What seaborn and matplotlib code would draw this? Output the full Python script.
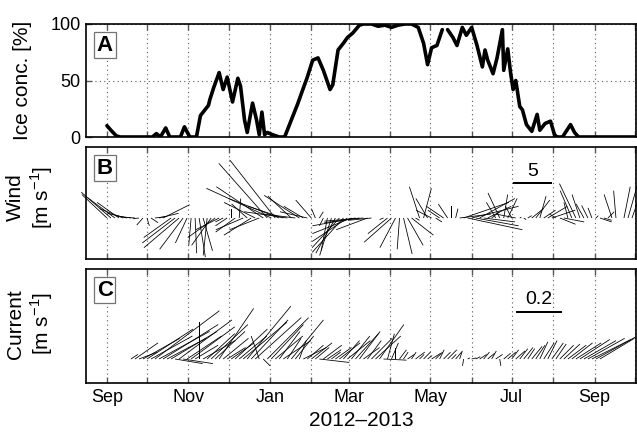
import numpy as np
import pandas as pd
import matplotlib
matplotlib.use('Agg')
import matplotlib.pyplot as plt
import seaborn as sns

start = pd.Timestamp('2012-09-01')

# A: ice concentration, days after 1 Sep 2012 (two pieces, gap in the record)
ice_day_1 = [0, 3, 7, 10, 34, 37, 40, 44, 47, 55, 58, 62, 67, 70, 76, 77, 80, 84, 87, 90,
             94, 98, 100, 103, 105, 109, 112, 114, 116, 118, 120, 124, 129, 133, 137, 141,
             143, 146, 150, 154, 158, 162, 167, 169, 173, 177, 180, 184, 189, 192, 198, 203,
             208, 213, 218, 223, 228, 233, 237, 240, 243, 247, 251]
ice_pct_1 = [10, 6, 1, 0, 0, 3, 0, 8, 0, 0, 9, 0, 0, 19, 28, 33, 44, 57, 42, 53,
             31, 52, 45, 15, 4, 30, 15, 2, 22, 2, 4, 2, 0, 0, 12, 24,
             30, 40, 53, 68, 70, 59, 42, 46, 77, 83, 88, 92, 99, 100, 100, 98,
             99, 97, 99, 100, 100, 97, 83, 64, 79, 81, 95]
ice_day_2 = [255, 259, 262, 266, 269, 273, 277, 281, 283, 285, 289, 292, 296, 297, 300,
             302, 304, 306, 309, 311, 314, 318, 322, 324, 328, 332, 335, 337, 341, 347,
             350, 353, 396]
ice_pct_2 = [95, 88, 81, 97, 90, 97, 81, 62, 77, 68, 56, 70, 95, 59, 78,
             58, 42, 50, 27, 24, 11, 5, 20, 6, 12, 14, 2, 0, 0, 11,
             4, 0, 0]

# B: wind sticks every 3 days from 1 Sep 2012 (m/s, east / north)
wind_u = [-3.2, -3.8, -3.5, -2.8, -3.0, -2.5, -2.0, -1.5, -0.8, -0.8,
          0.3, 0.9, 1.5, 2.5, 3.4, 0.0, -3.5, -4.2, -4.5, -3.0,
          -1.5, -0.3, 0.2, 0.8, 1.2, -0.5, -2.5, -3.5, -3.0, -1.0,
          -1.5, 0.0, -2.5, 0.2, -3.5, -2.0, -3.5, -4.0, -3.8, -6.0,
          -6.2, -8.3, -5.8, -6.5, -4.5, -5.5, -3.0, -4.0, -4.5, -2.5,
          -3.5, -2.0, -0.5, 0.5, -0.5, -0.8, -1.5, -2.5, -3.5, -4.0,
          -4.5, -5.0, -5.5, -4.5, -5.0, -4.0, -3.0, -2.0, -1.0, -0.5,
          -2.5, -3.5, -2.0, -0.3, 1.1, 2.0, 2.8, 0.5, -1.3, 1.0,
          -1.5, -2.0, 0.8, -1.5, -2.2, -1.2, 0.0, 0.3, 4.0, 5.8,
          7.0, 6.0, 5.5, 4.5, 4.0, 3.0, 1.0, -1.2, -1.5, 0.5,
          1.2, -0.8, -2.5, 0.2, 0.3, 0.5, 1.5, 1.8, 0.8, 1.5,
          2.5, 3.0, -0.8, 2.0, 2.6, -0.5, -1.5, -2.1, -1.0, -1.0,
          -0.8, -0.5, 0.3, 1.5, 1.0, 0.8, -1.0, -0.3, 0.0, 0.8,
          1.2, 1.6]
wind_v = [3.0, 3.3, 2.6, 2.0, 1.2, 0.6, 0.3, 0.1, -0.1, -0.9,
          -1.0, -0.6, 0.2, 0.6, 1.7, 1.7, -2.5, -3.2, -3.8, -4.0,
          -3.2, -3.5, -4.5, -5.0, -4.2, -4.8, -3.5, -2.5, -1.5, -0.5,
          -1.0, 1.2, -1.8, 2.5, -1.5, 1.8, -2.2, 2.0, -1.5, 4.0,
          7.0, 3.8, 7.4, 2.5, 1.5, 0.8, 2.8, 0.5, 2.9, 1.5,
          0.8, 2.3, 1.2, 0.8, -1.0, -4.2, -4.8, -4.5, -3.8, -4.4,
          -3.0, -2.0, -1.0, -0.6, -0.4, -1.5, -0.3, 0.0, 0.0, -0.2,
          -2.0, -3.1, -3.8, -4.0, -4.6, -3.5, -2.2, -0.3, 4.0, 3.8,
          2.5, 1.0, -0.5, 1.0, 1.5, 1.8, 1.6, 1.2, 0.5, 2.0,
          -1.5, 1.5, -1.0, 2.5, -0.5, 1.5, 0.8, 2.0, 3.2, 3.0,
          2.5, 1.5, 0.5, 0.1, -0.2, 0.3, 1.2, 2.3, 2.8, 1.0,
          1.5, 1.0, 0.5, -0.8, -0.5, 2.0, 3.5, 4.4, 3.0, 1.8,
          1.6, 1.3, 0.3, -0.5, -0.3, 0.8, 3.0, 3.5, 4.2, 4.0,
          4.2, 4.5]

# C: current sticks every 3 days from 19 Sep 2012 (m/s, east / north)
cur_u = [0.03, 0.10, 0.08, 0.16, 0.20, 0.18, 0.28, 0.22, 0.24, 0.17,
         0.20, 0.12, 0.23, 0.13, 0.15, 0.19, 0.10, 0.00, 0.14, 0.12,
         0.16, 0.13, 0.15, 0.11, 0.08, 0.10, 0.14, 0.12, 0.19, 0.19,
         0.16, 0.20, -0.035, 0.03, 0.18, 0.14, 0.12, 0.09, 0.12, 0.06,
         0.14, 0.08, 0.03, 0.10, 0.07, 0.09, 0.06, 0.13, 0.08, 0.06,
         0.04, 0.07, 0.09, 0.07, 0.10, 0.08, 0.10, 0.09, 0.07, 0.06,
         0.09, 0.11, 0.106, 0.10, 0.03, 0.03, 0.00, 0.03, 0.02, 0.03,
         0.02, 0.04, 0.02, 0.03, 0.02, 0.04, 0.03, 0.02, 0.03, 0.04,
         0.02, 0.03, 0.01, -0.005, 0.01, 0.02, 0.02, 0.03, 0.025, 0.03,
         0.02, 0.03, 0.005, 0.03, 0.035, 0.03, 0.04, 0.035, 0.04, 0.03,
         0.045, 0.04, 0.035, 0.045, 0.04, 0.05, 0.045, 0.06, 0.07, 0.08,
         0.09, 0.11, 0.13, 0.14, 0.16, 0.17, 0.18, 0.15]
cur_v = [0.02, 0.07, 0.03, 0.09, 0.13, 0.10, 0.21, 0.12, 0.15, 0.09,
         0.12, -0.02, 0.17, -0.02, 0.10, 0.14, 0.06, 0.16, 0.08, 0.11,
         0.15, 0.12, 0.22, 0.09, 0.05, 0.07, 0.13, 0.10, 0.16, 0.23,
         0.17, 0.18, 0.10, -0.03, 0.18, 0.15, 0.10, 0.12, 0.08, 0.09,
         0.17, 0.10, 0.08, 0.05, 0.06, 0.07, 0.05, -0.015, 0.06, 0.04,
         0.03, 0.05, 0.07, 0.08, 0.08, 0.10, 0.11, 0.12, 0.05, 0.08,
         0.09, 0.10, 0.15, -0.005, 0.11, 0.07, 0.05, 0.04, 0.03, 0.02,
         0.03, 0.03, 0.02, 0.03, 0.015, 0.025, 0.03, 0.04, 0.03, 0.04,
         0.02, 0.035, 0.03, -0.03, 0.005, 0.005, 0.01, 0.02, 0.03, 0.025,
         0.035, 0.02, -0.03, 0.025, 0.03, 0.04, 0.035, 0.045, 0.05, 0.045,
         0.055, 0.06, 0.075, 0.07, 0.08, 0.07, 0.065, 0.06, 0.065, 0.06,
         0.07, 0.07, 0.085, 0.08, 0.09, 0.085, 0.10, 0.09]

month_labels = ['Sep', '', 'Nov', '', 'Jan', '', 'Mar', '', 'May', '', 'Jul', '', 'Sep', '']

sns.set_style('ticks')
plt.rcParams['font.family'] = ['Liberation Sans', 'DejaVu Sans']
plt.rcParams['axes.linewidth'] = 1.2
plt.rcParams['text.color'] = 'black'
plt.rcParams['axes.labelcolor'] = 'black'

ice = pd.concat([
    pd.DataFrame({'date': start + pd.to_timedelta(ice_day_1, unit='D'), 'pct': ice_pct_1, 'seg': 1}),
    pd.DataFrame({'date': start + pd.to_timedelta(ice_day_2, unit='D'), 'pct': ice_pct_2, 'seg': 2}),
])
wind_t = pd.date_range(start, periods=len(wind_u), freq='3D')
cur_t = pd.date_range('2012-09-19', periods=len(cur_u), freq='3D')
months = pd.date_range('2012-09-01', '2013-10-01', freq='MS')

fig = plt.figure(figsize=(6.37, 4.34), dpi=100)
left, width = 86 / 637, 550 / 637
ax1 = fig.add_axes([left, 1 - 137 / 434, width, 113 / 434])
ax2 = fig.add_axes([left, 1 - 259 / 434, width, 112 / 434], sharex=ax1)
ax3 = fig.add_axes([left, 1 - 383 / 434, width, 114 / 434], sharex=ax1)

# A: ice concentration
sns.lineplot(data=ice, x='date', y='pct', units='seg', estimator=None,
             color='black', lw=2.6, ax=ax1, legend=False)
ax1.set_ylim(0, 100)
ax1.set_yticks([0, 50, 100])
ax1.set_ylabel('Ice conc. [%]', fontsize=15)
ax1.yaxis.set_label_coords(-0.098, 0.5)

stick = dict(angles='uv', scale_units='inches', units='dots', pivot='tail',
             headwidth=0, headlength=0, headaxislength=0, minlength=0, color='black')

# B: wind sticks (5 m/s = 0.39 in)
xw = matplotlib.dates.date2num(wind_t)
ax2.quiver(xw, np.zeros(len(xw)), wind_u, wind_v, scale=12.8, width=0.8, clip_on=False, **stick)
ax2.set_ylim(-41, 71)
xb = matplotlib.dates.date2num(start + pd.Timedelta(days=304))
ax2.quiver([xb], [35], [5], [0], scale=12.8, width=2.2, **stick)
ax2.text(start + pd.Timedelta(days=318.6), 47, '5', ha='center', va='center', fontsize=14)
ax2.set_ylabel('Wind\n[m s$^{\\mathregular{-1}}$]', fontsize=15)
ax2.yaxis.set_label_coords(-0.056, 0.55)

# C: current sticks (0.2 m/s = 0.46 in)
xc = matplotlib.dates.date2num(cur_t)
ax3.quiver(xc, np.zeros(len(xc)), cur_u, cur_v, scale=0.435, width=0.8, **stick)
ax3.set_ylim(-24, 90)
xb = matplotlib.dates.date2num(start + pd.Timedelta(days=306))
ax3.quiver([xb], [47], [0.2], [0], scale=0.435, width=2.2, **stick)
ax3.text(start + pd.Timedelta(days=323), 59, '0.2', ha='center', va='center', fontsize=14)
ax3.set_ylabel('Current\n[m s$^{\\mathregular{-1}}$]', fontsize=15)
ax3.yaxis.set_label_coords(-0.056, 0.52)

ax3.set_xlim(pd.Timestamp('2012-08-16 08:00'), pd.Timestamp('2013-10-02'))
ax3.set_xticks(months)
ax3.set_xticklabels(month_labels)
ax3.set_xlabel('2012\u20132013', fontsize=15)

for ax, letter in zip([ax1, ax2, ax3], 'ABC'):
    ax.grid(True, axis='x', ls=(0, (1, 3)), color='0.35', lw=0.8)
    ax.tick_params(axis='both', direction='in', length=4, width=1, color='0.35',
                   labelcolor='black', labelsize=13, pad=4, top=True)
    ax.text(0.0195, 0.905, letter, transform=ax.transAxes, fontsize=16, fontweight='bold',
            ha='left', va='top',
            bbox=dict(boxstyle='square,pad=0.12', fc='white', ec='0.45', lw=0.9))
    for s in ax.spines.values():
        s.set_color('black')
    if ax is not ax3:
        ax.tick_params(labelbottom=False)
        ax.set_xlabel('')
ax1.grid(True, axis='y', ls=(0, (1, 3)), color='0.35', lw=0.8)
for ax in [ax2, ax3]:
    ax.set_yticks([])

fig.savefig('out.png', dpi=100)
